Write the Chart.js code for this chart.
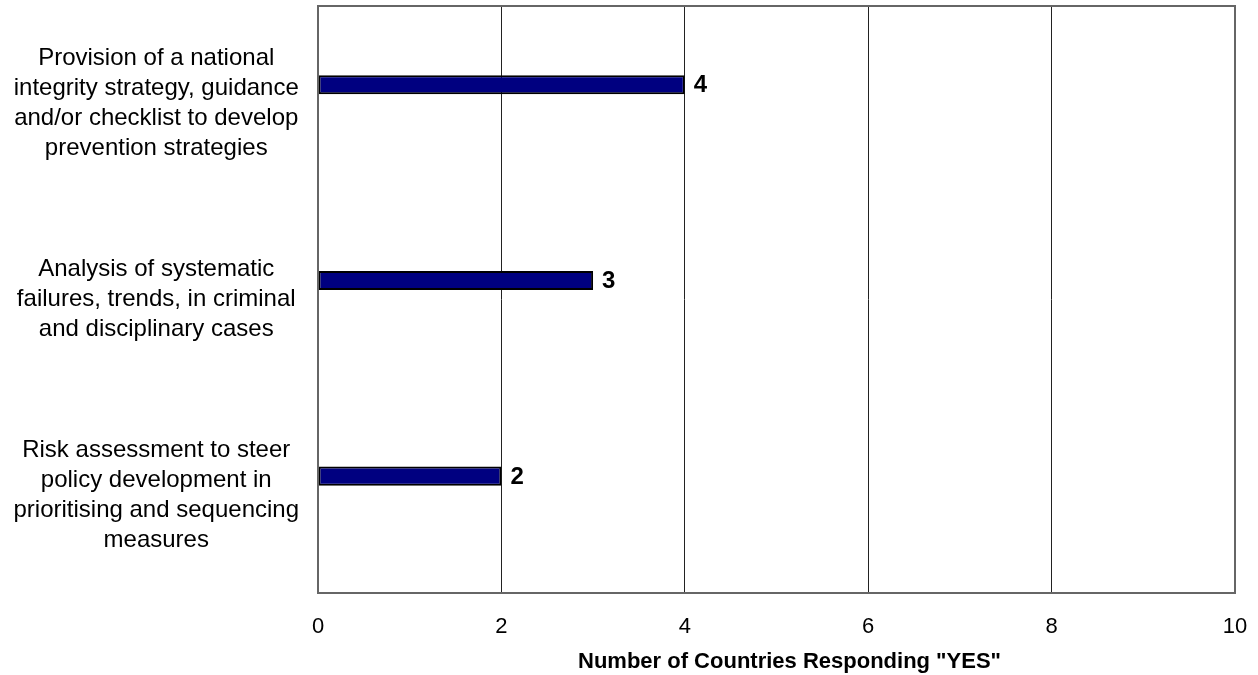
<!DOCTYPE html>
<html>
<head>
<meta charset="utf-8">
<script src="https://cdn.jsdelivr.net/npm/chart.js@4"></script>
<style>
  html, body { margin: 0; padding: 0; background: #fff; }
  #wrap { width: 1258px; height: 675px; }
</style>
</head>
<body>
<div id="wrap"><canvas id="chart"></canvas></div>
<script>
// Data
const categories = [
    ['Provision of a national', 'integrity strategy, guidance', 'and/or checklist to develop', 'prevention strategies'],
    ['Analysis of systematic', 'failures, trends, in criminal', 'and disciplinary cases'],
    ['Risk assessment to steer', 'policy development in', 'prioritising and sequencing', 'measures']
];
const yesValues = [4, 3, 2];
// second series of the original workbook, empty
const otherValues = [null, null, null];
const xTicks = [0, 2, 4, 6, 8, 10];
const xTitle = 'Number of Countries Responding "YES"';

const FONT = '"Liberation Sans", Arial, sans-serif';

// Frame around the plot area
const framePlugin = {
    id: 'frame',
    afterDatasetsDraw(chart) {
        const { ctx, chartArea: a } = chart;
        ctx.save();
        ctx.strokeStyle = '#666';
        ctx.lineWidth = 2;
        ctx.strokeRect(a.left, a.top, a.right - a.left, a.bottom - a.top);
        ctx.restore();
    }
};

// Value labels at bar ends + axis title (sits a bit right of centre in the original)
const valueLabels = {
    id: 'valueLabels',
    afterDraw(chart) {
        const { ctx, chartArea: a } = chart;
        const meta = chart.getDatasetMeta(0);
        ctx.save();
        ctx.font = 'bold 24px ' + FONT;
        ctx.fillStyle = '#000';
        ctx.textAlign = 'left';
        ctx.textBaseline = 'middle';
        meta.data.forEach((bar, i) => {
            ctx.fillText(String(yesValues[i]), bar.x + 9, bar.y + 1);
        });
        ctx.font = 'bold 22px ' + FONT;
        ctx.textAlign = 'center';
        ctx.fillText(xTitle, (a.left + a.right) / 2 + 13, a.bottom + 69);
        ctx.restore();
    }
};

new Chart(document.getElementById('chart'), {
    type: 'bar',
    data: {
        labels: categories,
        datasets: [{
            label: 'YES',
            data: yesValues,
            backgroundColor: '#000080',
            borderColor: '#000000',
            borderWidth: 2,
            borderSkipped: false,
            categoryPercentage: 0.39,
            barPercentage: 0.5
        }, {
            label: 'Other',
            data: otherValues,
            backgroundColor: '#000080',
            categoryPercentage: 0.39,
            barPercentage: 0.5
        }]
    },
    options: {
        indexAxis: 'y',
        responsive: true,
        maintainAspectRatio: false,
        animation: false,
        layout: {
            padding: { top: 6, right: 23, bottom: 0, left: 0 }
        },
        plugins: {
            legend: { display: false },
            tooltip: { enabled: false }
        },
        scales: {
            x: {
                min: 0,
                max: 10,
                afterBuildTicks(scale) {
                    scale.ticks = xTicks.map(v => ({ value: v }));
                },
                afterFit(scale) {
                    scale.height = 82;
                    scale.paddingLeft = 0;
                    scale.paddingRight = 0;
                },
                grid: {
                    color: '#222',
                    lineWidth: 1,
                    drawTicks: false
                },
                border: { display: false },
                ticks: {
                    color: '#000',
                    padding: 21,
                    font: { family: FONT, size: 22 }
                },
                title: { display: false }
            },
            y: {
                grid: { display: false, drawTicks: false },
                border: { display: false },
                afterFit(scale) {
                    scale.width = 318;
                    scale.paddingTop = 0;
                    scale.paddingBottom = 0;
                },
                ticks: {
                    color: '#000',
                    crossAlign: 'center',
                    padding: 19,
                    font: { family: FONT, size: 24, lineHeight: 1.25 }
                }
            }
        }
    },
    plugins: [framePlugin, valueLabels]
});
</script>
</body>
</html>
